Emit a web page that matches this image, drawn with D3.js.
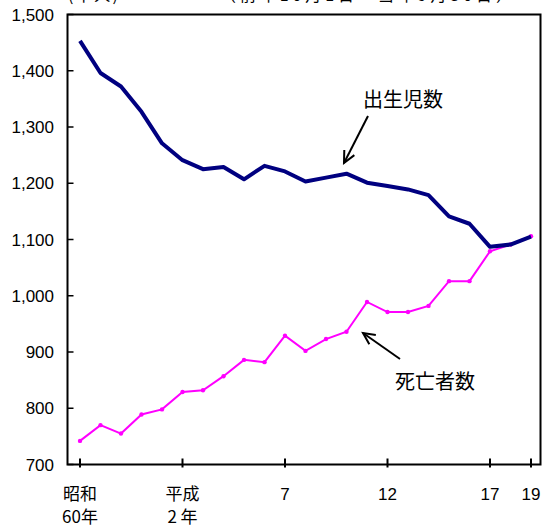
<!DOCTYPE html>
<html>
<head>
<meta charset="utf-8">
<script src="https://cdn.jsdelivr.net/npm/d3@7"></script>
<style>
  body { margin: 0; background: #fff; }
  svg { display: block; font-family: "Liberation Sans", Arial, sans-serif; }
  .jp { font-family: "Noto Sans CJK JP", "Noto Sans", sans-serif; }
</style>
</head>
<body>
<svg id="chart"></svg>
<script>
const width = 542, height = 527;

// 昭和60年 (index 0) ... 平成19年 (index 22)
const years = d3.range(0, 23);
const births = [1453, 1396, 1372, 1327, 1271, 1241, 1225, 1229, 1207, 1231, 1221, 1203,
	1210, 1217, 1201, 1195, 1189, 1179, 1141, 1128, 1087, 1091, 1105];
const deaths = [742, 770, 755, 789, 798, 829, 832, 857, 886, 882, 929, 902,
	923, 936, 989, 971, 971, 982, 1026, 1026, 1079, 1091, 1106];
const xTicks = [0, 5, 10, 15, 20, 22];
const xTickLabels = [['昭和', '60年'], ['平成', '2 年'], ['7'], ['12'], ['17'], ['19']];
const yTicks = [700, 800, 900, 1000, 1100, 1200, 1300, 1400, 1500];

const plotLeft = 67.5, plotRight = 540.5, plotTop = 14.5, plotBottom = 464.5;

const svg = d3.select('#chart')
	.attr('width', width)
	.attr('height', height);

const x = d3.scaleLinear().domain([0, 22]).range([80, 531]);
const y = d3.scaleLinear().domain([700, 1500]).range([plotBottom, plotTop]);

// header (cut off at the top edge, as in the source)
svg.append('text').attr('class', 'jp')
	.attr('x', 68).attr('y', 0.5)
	.attr('font-size', 16)
	.attr('textLength', 50)
	.text('(千人)');
svg.append('text').attr('class', 'jp')
	.attr('x', 220).attr('y', 0.5)
	.attr('font-size', 16)
	.attr('textLength', 292)
	.text('（前年10月1日～当年9月30日）');

// frame
svg.append('rect')
	.attr('x', plotLeft).attr('y', plotTop)
	.attr('width', plotRight - plotLeft).attr('height', plotBottom - plotTop)
	.attr('fill', 'none')
	.attr('stroke', '#000')
	.attr('stroke-width', 2);

// y ticks + labels
svg.append('g').selectAll('line').data(yTicks).join('line')
	.attr('x1', plotLeft).attr('x2', plotLeft + 6)
	.attr('y1', d => y(d)).attr('y2', d => y(d))
	.attr('stroke', '#000').attr('stroke-width', 1.5);
svg.append('g').selectAll('text').data(yTicks).join('text')
	.attr('x', 54)
	.attr('y', d => y(d) + 6)
	.attr('text-anchor', 'end')
	.attr('font-size', 17)
	.text(d => d3.format(',')(d));

// x ticks + labels
svg.append('g').selectAll('line').data(xTicks).join('line')
	.attr('x1', d => x(d)).attr('x2', d => x(d))
	.attr('y1', plotBottom - 6).attr('y2', plotBottom + 3)
	.attr('stroke', '#000').attr('stroke-width', 2);
const xl = svg.append('g').selectAll('text').data(xTicks).join('text')
	.attr('text-anchor', 'middle')
	.attr('font-size', 17);
xl.each(function (d, i) {
	const lines = xTickLabels[i];
	lines.forEach((s, k) => {
		d3.select(this).append('tspan')
			.attr('class', /[^0-9 ]/.test(s) ? 'jp' : null)
			.attr('x', x(d))
			.attr('y', 500 + k * 23)
			.text(s);
	});
});

const line = d3.line()
	.x((d, i) => x(years[i]))
	.y(d => y(d));

// deaths
svg.append('path').datum(deaths)
	.attr('d', line)
	.attr('fill', 'none')
	.attr('stroke', '#ff00ff')
	.attr('stroke-width', 2);
svg.append('g').selectAll('circle').data(deaths).join('circle')
	.attr('cx', (d, i) => x(years[i]))
	.attr('cy', d => y(d))
	.attr('r', 2.2)
	.attr('fill', '#ff00ff');

// births
svg.append('path').datum(births)
	.attr('d', line)
	.attr('fill', 'none')
	.attr('stroke', '#000080')
	.attr('stroke-width', 4)
	.attr('stroke-linejoin', 'round');

// annotations
function arrow (x1, y1, x2, y2) {
	const a = Math.atan2(y2 - y1, x2 - x1);
	const len = 13, spread = 0.45;
	svg.append('line')
		.attr('x1', x1).attr('y1', y1).attr('x2', x2).attr('y2', y2)
		.attr('stroke', '#000').attr('stroke-width', 2);
	svg.append('path')
		.attr('d', `M${x2 - len * Math.cos(a - spread)},${y2 - len * Math.sin(a - spread)}L${x2},${y2}L${x2 - len * Math.cos(a + spread)},${y2 - len * Math.sin(a + spread)}`)
		.attr('fill', 'none')
		.attr('stroke', '#000').attr('stroke-width', 2);
}

svg.append('text').attr('class', 'jp')
	.attr('x', 363).attr('y', 107)
	.attr('font-size', 20)
	.text('出生児数');
arrow(368, 116, 344, 163);

svg.append('text').attr('class', 'jp')
	.attr('x', 395).attr('y', 389)
	.attr('font-size', 20)
	.text('死亡者数');
arrow(400, 359, 363, 333);
</script>
</body>
</html>
